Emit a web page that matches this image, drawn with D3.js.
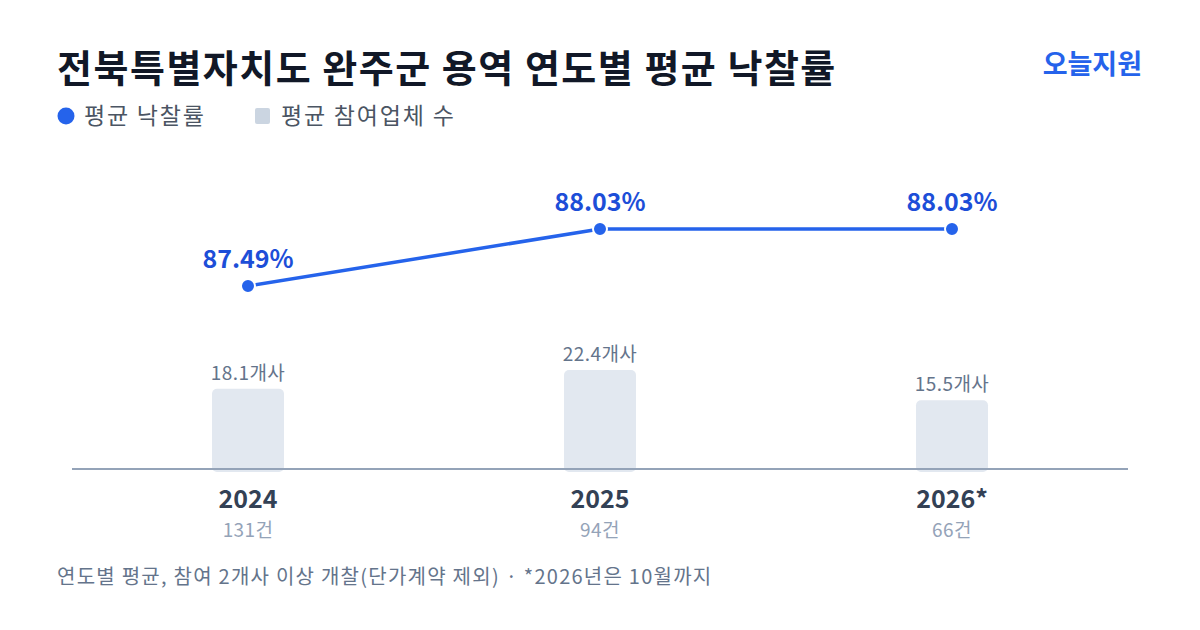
<!DOCTYPE html>
<html>
<meta charset="utf-8">
<style>
    body { margin: 0; background: #fff; }
    svg text { font-family: 'Noto Sans CJK KR', 'Noto Sans', sans-serif; }
</style>
<body>
<svg id="chart" width="1200" height="630"></svg>
<script src="https://d3js.org/d3.v7.min.js"></script>
<script>
    const years = ["2024", "2025", "2026*"];
    const rates = [87.49, 88.03, 88.03];
    const bidders = [18.1, 22.4, 15.5];
    const counts = [131, 94, 66];

    const svg = d3.select("#chart");
    const blue = "#2563eb";
    const baseY = 468;

    // title + brand
    svg.append("text").attr("x", 57).attr("y", 82)
        .attr("font-size", 38).attr("font-weight", 700).attr("fill", "#111827")
        .attr("letter-spacing", 1.5)
        .text("전북특별자치도 완주군 용역 연도별 평균 낙찰률");
    svg.append("text").attr("x", 1142).attr("y", 74).attr("text-anchor", "end")
        .attr("font-size", 27).attr("font-weight", 700).attr("fill", blue)
        .text("오늘지원");

    // legend
    svg.append("circle").attr("cx", 66).attr("cy", 116).attr("r", 8.5).attr("fill", blue);
    svg.append("text").attr("x", 84).attr("y", 124).attr("font-size", 23).attr("letter-spacing", 1.8)
        .attr("fill", "#4b5563").text("평균 낙찰률");
    svg.append("rect").attr("x", 255).attr("y", 108).attr("width", 15).attr("height", 16).attr("rx", 2).attr("fill", "#cbd5e1");
    svg.append("text").attr("x", 281).attr("y", 124).attr("font-size", 23).attr("letter-spacing", 1.8)
        .attr("fill", "#4b5563").text("평균 참여업체 수");

    const x = d3.scalePoint().domain(years).range([248, 952]);
    const yBar = d3.scaleLinear().domain([0, 22.4]).range([baseY, 370]);
    const yRate = d3.scaleLinear().domain([87.49, 88.03]).range([286, 229]);
    const barW = 72;

    const data = years.map((y, i) => ({ year: y, rate: rates[i], bid: bidders[i], count: counts[i] }));

    // bars
    svg.append("g").selectAll("rect").data(data).join("rect")
        .attr("x", d => x(d.year) - barW / 2)
        .attr("y", d => yBar(d.bid))
        .attr("width", barW)
        .attr("height", d => baseY - yBar(d.bid) + 4)
        .attr("rx", 5)
        .attr("fill", "#e2e8f0");

    svg.append("g").selectAll("text").data(data).join("text")
        .attr("x", d => x(d.year))
        .attr("y", d => yBar(d.bid) - 9)
        .attr("text-anchor", "middle").attr("font-size", 19).attr("letter-spacing", 0.4).attr("fill", "#64748b")
        .text(d => d.bid.toFixed(1) + "개사");

    // baseline axis
    const axis = svg.append("g").attr("transform", `translate(0,${baseY})`)
        .call(d3.axisBottom(x).tickSize(0).tickFormat(""));
    axis.select(".domain").remove();
    svg.append("line").attr("x1", 72).attr("x2", 1128).attr("y1", baseY + 1).attr("y2", baseY + 1)
        .attr("stroke", "#94a3b8").attr("stroke-width", 2);

    svg.append("g").selectAll("text").data(data).join("text")
        .attr("x", d => x(d.year)).attr("y", 508)
        .attr("text-anchor", "middle").attr("font-size", 25).attr("font-weight", 700).attr("fill", "#334155")
        .text(d => d.year);
    svg.append("g").selectAll("text").data(data).join("text")
        .attr("x", d => x(d.year)).attr("y", 537)
        .attr("text-anchor", "middle").attr("font-size", 19).attr("letter-spacing", 0.4).attr("fill", "#94a3b8")
        .text(d => d.count + "건");

    // line
    svg.append("path").datum(data)
        .attr("fill", "none").attr("stroke", blue).attr("stroke-width", 3.5)
        .attr("d", d3.line().x(d => x(d.year)).y(d => yRate(d.rate)));
    svg.append("g").selectAll("circle").data(data).join("circle")
        .attr("cx", d => x(d.year)).attr("cy", d => yRate(d.rate)).attr("r", 7)
        .attr("fill", blue).attr("stroke", "#fff").attr("stroke-width", 2);
    svg.append("g").selectAll("text").data(data).join("text")
        .attr("x", d => x(d.year)).attr("y", d => yRate(d.rate) - 18)
        .attr("text-anchor", "middle").attr("font-size", 25).attr("font-weight", 700).attr("fill", "#1d4ed8")
        .text(d => d.rate.toFixed(2) + "%");

    // footnote
    svg.append("text").attr("x", 57).attr("y", 584)
        .attr("font-size", 20).attr("letter-spacing", 1.25).attr("fill", "#64748b")
        .text("연도별 평균, 참여 2개사 이상 개찰(단가계약 제외) · *2026년은 10월까지");
</script>
</body>
</html>
